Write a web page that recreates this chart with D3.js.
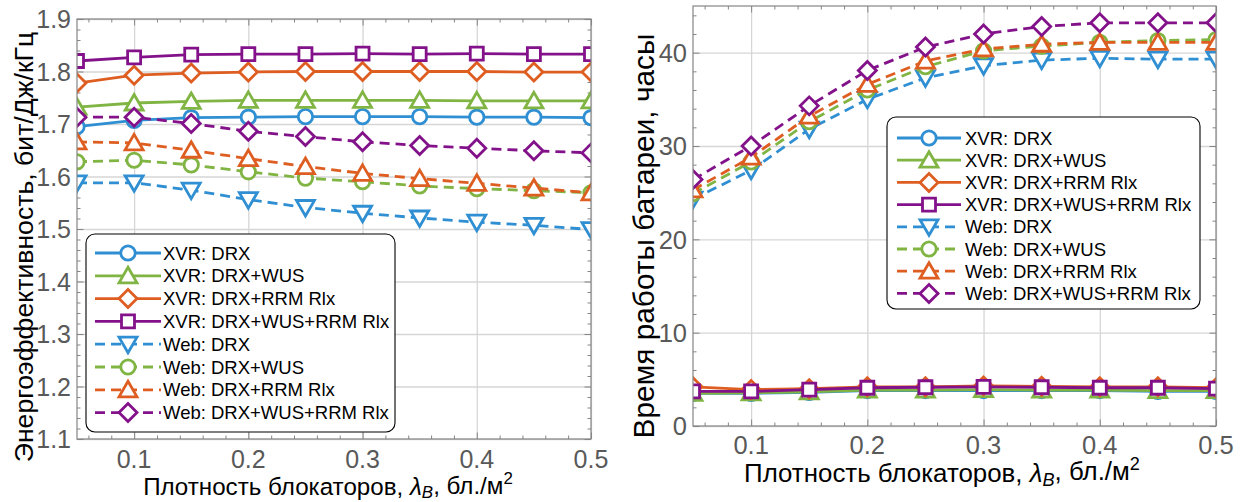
<!DOCTYPE html>
<html><head><meta charset="utf-8">
<script src="https://cdn.jsdelivr.net/npm/d3@7"></script>
<style>
body{margin:0;background:#fff}
text{font-family:"Liberation Sans",Arial,Helvetica,sans-serif}
</style>
</head><body>
<svg id="c" width="1249" height="502"></svg>
<script>
// ---------- DATA ----------
const xValues = [0.05,0.10,0.15,0.20,0.25,0.30,0.35,0.40,0.45,0.50];
const seriesNames = ["XVR: DRX","XVR: DRX+WUS","XVR: DRX+RRM Rlx","XVR: DRX+WUS+RRM Rlx",
                     "Web: DRX","Web: DRX+WUS","Web: DRX+RRM Rlx","Web: DRX+WUS+RRM Rlx"];
// Energy efficiency, bit/J/kHz (left panel)
const eeXvrDrx      = [1.695,1.707,1.712,1.713,1.714,1.714,1.714,1.713,1.713,1.712];
const eeXvrWus      = [1.732,1.740,1.743,1.745,1.745,1.745,1.745,1.744,1.744,1.744];
const eeXvrRrm      = [1.778,1.793,1.797,1.799,1.800,1.800,1.800,1.800,1.799,1.799];
const eeXvrWusRrm   = [1.820,1.827,1.832,1.833,1.833,1.834,1.833,1.834,1.833,1.833];
const eeWebDrx      = [1.588,1.588,1.574,1.556,1.541,1.530,1.521,1.513,1.507,1.499];
const eeWebWus      = [1.628,1.631,1.622,1.609,1.597,1.590,1.582,1.577,1.573,1.569];
const eeWebRrm      = [1.666,1.664,1.650,1.634,1.619,1.606,1.596,1.587,1.578,1.569];
const eeWebWusRrm   = [1.713,1.713,1.701,1.686,1.676,1.666,1.659,1.654,1.649,1.645];
// Battery life, hours (right panel)
const blXvrDrx      = [3.5,3.5,3.6,3.8,3.8,3.8,3.8,3.8,3.7,3.7];
const blXvrWus      = [3.5,3.55,3.65,3.85,3.85,3.9,3.85,3.85,3.8,3.8];
const blXvrRrm      = [4.2,3.9,4.0,4.2,4.2,4.3,4.25,4.2,4.2,4.1];
const blXvrWusRrm   = [3.7,3.7,3.9,4.1,4.15,4.2,4.15,4.1,4.1,4.0];
const blWebDrx      = [24.3,27.4,31.8,35.0,37.3,38.6,39.2,39.4,39.3,39.3];
const blWebWus      = [24.9,28.3,32.6,36.0,38.5,40.2,40.7,41.1,41.3,41.4];
const blWebRrm      = [25.3,28.8,33.2,36.6,39.1,40.4,40.9,41.1,41.1,41.1];
const blWebWusRrm   = [26.4,30.0,34.3,38.1,40.6,42.0,42.8,43.2,43.2,43.2];
// Ticks
const xTickValues  = [0.1,0.2,0.3,0.4,0.5];
const eeTickValues = [1.1,1.2,1.3,1.4,1.5,1.6,1.7,1.8,1.9];
const blTickValues = [0,10,20,30,40];
const eeYLabel = "Энергоэффективность, бит/Дж/кГц";
const blYLabel = "Время работы батареи, часы";

// ---------- STYLE ----------
const colors  = ["#2F8FD2","#80B443","#DE5E22","#83128A","#2F8FD2","#80B443","#DE5E22","#83128A"];
const markers = ["circle","triangleUp","diamond","square","triangleDown","circle","triangleUp","diamond"];
const dashed  = [false,false,false,false,true,true,true,true];

const svg = d3.select("#c");

function markerPath(type){
  switch(type){
    case "circle": return d3.symbol(d3.symbolCircle, Math.PI*7.2*7.2)();
    case "square": return "M-6.5,-6.5H6.5V6.5H-6.5Z";
    case "diamond": return "M0,-9L9,0L0,9L-9,0Z";
    case "triangleUp": return "M0,-8.5L9,7L-9,7Z";
    case "triangleDown": return "M0,8.5L9,-7L-9,-7Z";
  }
}

function fitText(sel, target){
  const fs = parseFloat(sel.attr("font-size"));
  const w = sel.node().getBBox().width;
  sel.attr("font-size", fs*target/w);
}

function drawPanel(cfg){
  const x = d3.scaleLinear().domain([0.05,0.5]).range([cfg.x0,cfg.x1]);
  const y = d3.scaleLinear().domain(cfg.yDomain).range([cfg.y1,cfg.y0]);
  const g = svg.append("g");
  const W = cfg.x1-cfg.x0, H = cfg.y1-cfg.y0;

  // grid
  g.append("g").attr("transform",`translate(0,${cfg.y1})`)
    .call(d3.axisBottom(x).tickValues(xTickValues).tickSize(-H).tickFormat(""))
    .call(a=>{a.select(".domain").remove();a.selectAll("line").attr("stroke","#d6d6d6").attr("stroke-width",1.3);});
  g.append("g").attr("transform",`translate(${cfg.x0},0)`)
    .call(d3.axisLeft(y).tickValues(cfg.yTicks).tickSize(-W).tickFormat(""))
    .call(a=>{a.select(".domain").remove();a.selectAll("line").attr("stroke","#d6d6d6").attr("stroke-width",1.3);});

  // minor ticks
  const xMinor = d3.range(0.06,0.5001,0.02).filter(v=>!xTickValues.some(t=>Math.abs(t-v)<1e-6));
  const yMinor = d3.range(cfg.yDomain[0],cfg.yDomain[1]+1e-9,cfg.yMinorStep)
                  .filter(v=>!cfg.yTicks.some(t=>Math.abs(t-v)<1e-6));
  const tickCol = "#858585";
  function axisStyle(a){a.select(".domain").remove();a.selectAll("line").attr("stroke",tickCol);}
  [[d3.axisBottom,cfg.y1],[d3.axisTop,cfg.y0]].forEach(([f,pos])=>{
    g.append("g").attr("transform",`translate(0,${pos})`).call(f(x).tickValues(xMinor).tickSize(-3.5).tickFormat("")).call(axisStyle);
    g.append("g").attr("transform",`translate(0,${pos})`).call(f(x).tickValues(xTickValues).tickSize(-6.5).tickFormat("")).call(axisStyle);
  });
  [[d3.axisLeft,cfg.x0],[d3.axisRight,cfg.x1]].forEach(([f,pos])=>{
    g.append("g").attr("transform",`translate(${pos},0)`).call(f(y).tickValues(yMinor).tickSize(-3.5).tickFormat("")).call(axisStyle);
    g.append("g").attr("transform",`translate(${pos},0)`).call(f(y).tickValues(cfg.yTicks).tickSize(-6.5).tickFormat("")).call(axisStyle);
  });

  // clip
  const cid = "clip"+cfg.id;
  svg.append("clipPath").attr("id",cid).append("rect")
    .attr("x",cfg.x0).attr("y",cfg.y0).attr("width",W).attr("height",H);
  const plot = g.append("g").attr("clip-path",`url(#${cid})`);
  const line = d3.line().x((d,i)=>x(xValues[i])).y(d=>y(d));
  cfg.series.forEach((vals,k)=>{
    const sg = plot.append("g");
    sg.append("path").datum(vals).attr("d",line).attr("fill","none")
      .attr("stroke",colors[k]).attr("stroke-width",2.8)
      .attr("stroke-dasharray",dashed[k]?"10,6":null);
    sg.selectAll("path.m").data(vals).join("path").attr("class","m")
      .attr("d",markerPath(markers[k]))
      .attr("transform",(d,i)=>`translate(${x(xValues[i])},${y(d)})`)
      .attr("fill","#fff").attr("stroke",colors[k]).attr("stroke-width",2.8);
  });

  // box
  g.append("rect").attr("x",cfg.x0).attr("y",cfg.y0).attr("width",W).attr("height",H)
    .attr("fill","none").attr("stroke",tickCol).attr("stroke-width",1.2);

  // tick labels
  const lab = g.append("g").attr("fill","#595959").attr("font-size",cfg.tickSize);
  lab.selectAll("text.xt").data(xTickValues).join("text").attr("class","xt")
    .attr("x",d=>x(d)).attr("y",cfg.y1+cfg.xLabOff).attr("text-anchor","middle")
    .text(d=>d3.format(".1f")(d));
  lab.selectAll("text.yt").data(cfg.yTicks).join("text").attr("class","yt")
    .attr("x",cfg.x0-6).attr("y",d=>y(d)).attr("dy","0.36em").attr("text-anchor","end")
    .text(cfg.yFmt);

  // x title
  const xt = g.append("text").attr("x",cfg.xTitleX).attr("y",cfg.xTitleY)
    .attr("text-anchor","middle").attr("font-size",24).attr("fill","#000");
  xt.append("tspan").text("Плотность блокаторов, ");
  xt.append("tspan").attr("font-style","italic").text("λ");
  xt.append("tspan").attr("font-style","italic").attr("font-size","0.7em").attr("dy","0.2em").text("B");
  xt.append("tspan").attr("dy","-0.2em").text(", бл./м");
  xt.append("tspan").attr("font-size","0.7em").attr("dy","-0.55em").text("2");
  fitText(xt, cfg.xTitleLen);

  // y title
  const yt = g.append("text").attr("transform",`translate(${cfg.yTitleX},${cfg.yTitleY}) rotate(-90)`)
    .attr("text-anchor","middle").attr("font-size",24).attr("fill","#000").text(cfg.yLabel);
  fitText(yt, cfg.yTitleLen);

  // legend
  const L = cfg.legend;
  const lg = g.append("g");
  lg.append("rect").attr("x",L.x).attr("y",L.y).attr("width",L.w).attr("height",L.h)
    .attr("rx",9).attr("fill","#fff").attr("stroke","#000").attr("stroke-width",1.1);
  seriesNames.forEach((name,k)=>{
    const ry = L.row0 + k*L.dy;
    lg.append("line").attr("x1",L.lx0).attr("x2",L.lx1).attr("y1",ry).attr("y2",ry)
      .attr("stroke",colors[k]).attr("stroke-width",2.8).attr("stroke-dasharray",dashed[k]?"10,6":null);
    lg.append("path").attr("d",markerPath(markers[k]))
      .attr("transform",`translate(${(L.lx0+L.lx1)/2},${ry})`)
      .attr("fill","#fff").attr("stroke",colors[k]).attr("stroke-width",2.8);
    lg.append("text").attr("x",L.tx).attr("y",ry).attr("dy","0.36em")
      .attr("font-size",18.5).attr("fill","#000").text(name);
  });
}

drawPanel({
  id:"L", x0:77, x1:591, y0:19, y1:439, yDomain:[1.1,1.9], yTicks:eeTickValues, yMinorStep:0.02,
  yFmt:d=>d3.format(".1f")(d), tickSize:25, xLabOff:29, xTitleX:328, xTitleY:495, xTitleLen:370,
  yTitleX:33, yTitleY:247, yTitleLen:431, yLabel:eeYLabel,
  series:[eeXvrDrx,eeXvrWus,eeXvrRrm,eeXvrWusRrm,eeWebDrx,eeWebWus,eeWebRrm,eeWebWusRrm],
  legend:{x:86,y:234,w:309,h:198,row0:253,dy:22.8,lx0:95,lx1:161,tx:163}
});
drawPanel({
  id:"R", x0:693, x1:1216, y0:6, y1:426, yDomain:[0,45], yTicks:blTickValues, yMinorStep:2,
  yFmt:d=>d, tickSize:25.5, xLabOff:28, xTitleX:942, xTitleY:482, xTitleLen:396,
  yTitleX:654, yTitleY:236, yTitleLen:405, yLabel:blYLabel,
  series:[blXvrDrx,blXvrWus,blXvrRrm,blXvrWusRrm,blWebDrx,blWebWus,blWebRrm,blWebWusRrm],
  legend:{x:887,y:117,w:313,h:192,row0:138,dy:22.2,lx0:897,lx1:961,tx:965}
});
</script>
</body></html>
